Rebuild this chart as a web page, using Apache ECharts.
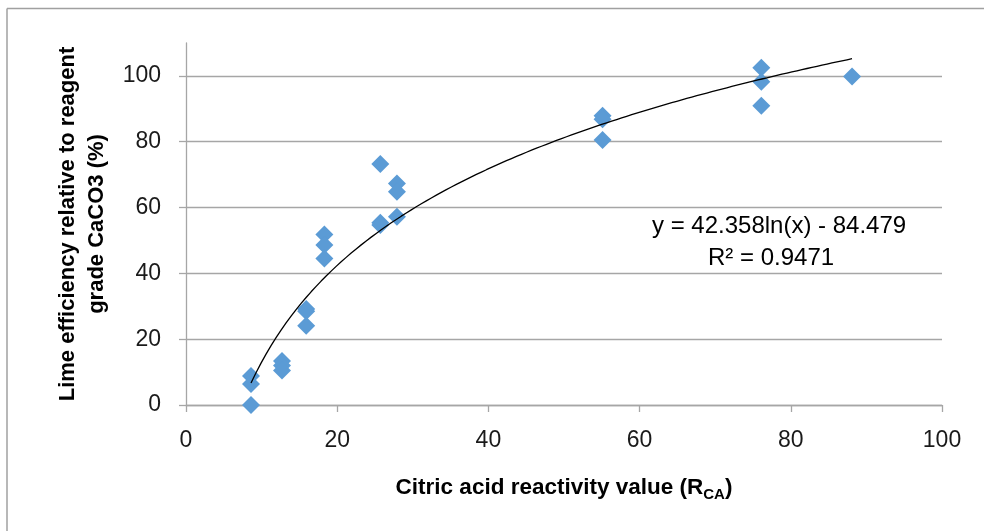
<!DOCTYPE html>
<html>
<head>
<meta charset="utf-8">
<script src="https://cdn.jsdelivr.net/npm/echarts@6/dist/echarts.min.js"></script>
<style>
html,body{margin:0;padding:0;background:#fff;}
#chart{width:984px;height:531px;}
</style>
</head>
<body>
<div id="chart"></div>
<script>
// Data
var rcaValues = [8.6, 8.6, 8.6, 12.7, 12.7, 12.7, 15.9, 15.9, 15.9, 18.3, 18.3, 18.3,
                 25.7, 25.7, 25.7, 27.9, 27.9, 27.9, 55.1, 55.1, 55.1, 76.1, 76.1, 76.1, 88.1];
var efficiencyValues = [8.8, 6.4, 0.0, 13.4, 12.0, 10.5, 29.2, 28.5, 24.1, 51.8, 48.6, 44.5,
                        73.2, 55.4, 54.7, 67.3, 64.8, 57.2, 87.9, 86.8, 80.5, 102.5, 98.2, 90.9, 99.8];
var xTicks = [0, 20, 40, 60, 80, 100];
var yTicks = [0, 20, 40, 60, 80, 100];
// Trend line coefficients as printed on the chart
var trendA = 42.358;
var trendB = -84.479;
var trendLabel = ['y = 42.358ln(x) - 84.479', 'R\u00B2 = 0.9471'];

var xMin = Math.min.apply(null, rcaValues), xMax = Math.max.apply(null, rcaValues);
var trendPoints = [];
for (var i = 0; i <= 120; i++) {
  var x = xMin + (xMax - xMin) * i / 120;
  trendPoints.push([x, trendA * Math.log(x) + trendB]);
}
var scatterPoints = rcaValues.map(function (x, k) { return [x, efficiencyValues[k]]; });

var gridColor = '#a6a6a6';
var labelFont = 'Liberation Sans';
var titleFont = 'Liberation Sans';

var chart = echarts.init(document.getElementById('chart'), null, {renderer: 'canvas'});
chart.setOption({
  animation: false,
  backgroundColor: '#fff',
  grid: {left: 186, right: 42, top: 43, bottom: 126, containLabel: false},
  xAxis: {
    type: 'value', min: 0, max: 100, interval: 20,
    axisLine: {show: true, lineStyle: {color: gridColor, width: 1.3}},
    axisTick: {show: true, length: 7, lineStyle: {color: gridColor, width: 1.3}, customValues: xTicks},
    axisLabel: {fontFamily: labelFont, fontSize: 23, color: '#1a1a1a', margin: 24, customValues: xTicks},
    splitLine: {show: false},
    name: 'Citric acid reactivity value (R{sub|CA})',
    nameLocation: 'middle', nameGap: 68,
    nameTextStyle: {
      fontFamily: titleFont, fontWeight: 'bold', fontSize: 22.5, color: '#000',
      rich: {sub: {fontFamily: titleFont, fontWeight: 'bold', fontSize: 15, color: '#000', verticalAlign: 'bottom', padding: [14, 0, 0, 0]}}
    }
  },
  yAxis: {
    type: 'value', min: 0, max: 110, interval: 20,
    axisLine: {show: true, lineStyle: {color: gridColor, width: 1.3}},
    axisTick: {show: true, length: 7, lineStyle: {color: gridColor, width: 1.3}, customValues: yTicks},
    axisLabel: {fontFamily: labelFont, fontSize: 23, color: '#1a1a1a', margin: 25, customValues: yTicks},
    splitLine: {show: true, lineStyle: {color: [gridColor, gridColor, gridColor, gridColor, gridColor, gridColor, 'rgba(0,0,0,0)'], width: 1.3}},
    name: 'Lime efficiency relative to reagent\ngrade CaCO3 (%)',
    nameLocation: 'middle', nameGap: 74, nameRotate: 90,
    nameTextStyle: {fontFamily: titleFont, fontWeight: 'bold', fontSize: 22, color: '#000', lineHeight: 29, align: 'center'}
  },
  graphic: [
    {type: 'line', shape: {x1: 7, y1: 8.5, x2: 7, y2: 531}, style: {stroke: '#a0a0a0', lineWidth: 1.5}, silent: true},
    {type: 'line', shape: {x1: 7, y1: 8.5, x2: 984, y2: 8.5}, style: {stroke: '#a0a0a0', lineWidth: 1.5}, silent: true},
    {type: 'text', left: 652, top: 214, style: {text: trendLabel[0], fontFamily: labelFont, fontSize: 24, fill: '#000'}, silent: true},
    {type: 'text', left: 708, top: 246, style: {text: trendLabel[1], fontFamily: labelFont, fontSize: 24, fill: '#000'}, silent: true}
  ],
  series: [
    {
      type: 'scatter', data: scatterPoints, symbol: 'diamond', symbolSize: 18,
      itemStyle: {color: '#5B9BD5', opacity: 1}, z: 3
    },
    {
      type: 'line', data: trendPoints, showSymbol: false, symbol: 'none', smooth: false,
      lineStyle: {color: '#000', width: 1.3}, z: 4, silent: true
    }
  ]
});
</script>
</body>
</html>
